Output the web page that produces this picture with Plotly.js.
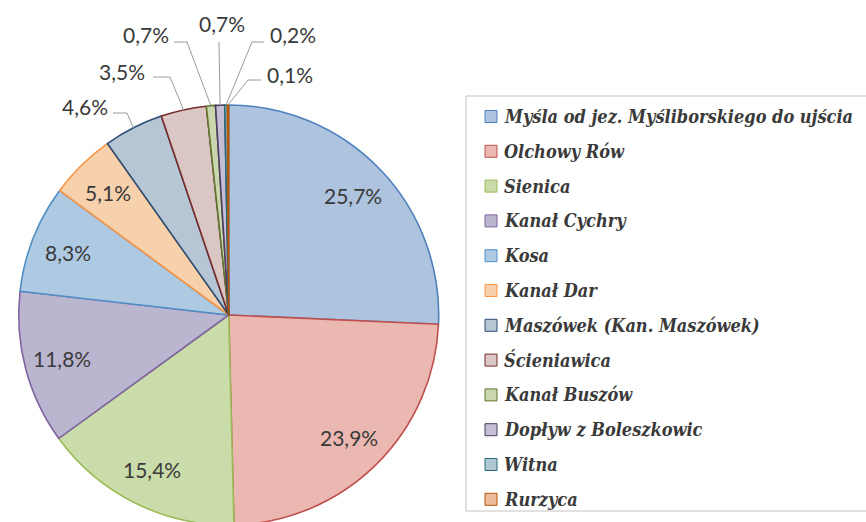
<!DOCTYPE html>
<html><head><meta charset="utf-8">
<script src="https://cdn.plot.ly/plotly-3.0.1.min.js"></script>
<style>html,body{margin:0;padding:0;overflow:hidden;background:#fff}</style>
</head><body><div id="chart" style="width:866px;height:530px"></div>
<script>
// ---- data ----
const labels = ['Myśla od jez. Myśliborskiego do ujścia','Olchowy Rów','Sienica','Kanał Cychry','Kosa','Kanał Dar','Maszówek (Kan. Maszówek)','Ścieniawica','Kanał Buszów','Dopływ z Boleszkowic','Witna','Rurzyca'];
const values = [25.7, 23.9, 15.4, 11.8, 8.3, 5.1, 4.6, 3.5, 0.7, 0.7, 0.2, 0.1];
const fillColors = ['#adc3de','#eab8b0','#cadca9','#bbb6cf','#aecae3','#f6d1ab','#b7c6d4','#dbc6c6','#cad6ae','#c4bfd4','#afc8d2','#ecbd9a'];
const lineColors = ['#4f81bd','#c0504d','#9bbb59','#8064a2','#4f8fc6','#f79646','#2c4d75','#772c2a','#5f7530','#4d3b62','#276a7c','#b65708'];

// ---- layout constants ----
const W = 866, H = 530, CX = 228.7, CY = 315, R = 210;
const px = x => x / W, py = y => (H - y) / H;
const fmt = v => v.toFixed(1).replace('.', ',') + '%';
const total = values.reduce((a, b) => a + b, 0);
let cum = 0;
const mids = values.map(v => { const m = (cum + v / 2) / total * 2 * Math.PI; cum += v; return m; });
const polar = (a, r) => [CX + r * Math.sin(a), CY - r * Math.cos(a)];

const labelFont = {family: 'Lato, Liberation Sans, sans-serif', size: 21, color: '#3a3a3a'};
const annotations = [], shapes = [];

// inside labels for the large slices
for (let i = 0; i < 6; i++) {
  const [x, y] = polar(mids[i], 0.82 * R);
  annotations.push({xref: 'paper', yref: 'paper', x: px(x), y: py(y), xanchor: 'center', yanchor: 'middle', text: fmt(values[i]), showarrow: false, font: labelFont});
}
// outside labels: text centre, leader start, elbow (pixels)
const outside = {
  6:  {t: [85, 107],  s: [113, 113], e: [127, 113]},
  7:  {t: [122, 72],  s: [153, 77],  e: [170, 77]},
  8:  {t: [146, 35],  s: [174, 42],  e: [187, 42]},
  9:  {t: [222, 24],  s: [219, 42],  e: [219, 44]},
  10: {t: [293, 35],  s: [264, 42],  e: [252, 42]},
  11: {t: [290, 75],  s: [261, 80],  e: [248, 80]}
};
for (const k in outside) {
  const i = +k, o = outside[k];
  annotations.push({xref: 'paper', yref: 'paper', x: px(o.t[0]), y: py(o.t[1]), xanchor: 'center', yanchor: 'middle', text: fmt(values[i]), showarrow: false, font: labelFont});
  const [ex, ey] = polar(mids[i], R);
  shapes.push({type: 'path', xref: 'paper', yref: 'paper',
    path: `M${px(o.s[0])},${py(o.s[1])} L${px(o.e[0])},${py(o.e[1])} L${px(ex)},${py(ey)}`,
    line: {color: '#9a9a9a', width: 1}});
}

// legend (manual, to match entry spacing)
const legTop = 116.5, legStep = 34.8;
shapes.push({type: 'rect', xref: 'paper', yref: 'paper', x0: px(466), x1: px(880), y0: py(96), y1: py(511), line: {color: '#c4c4c4', width: 1}, fillcolor: 'rgba(0,0,0,0)'});
labels.forEach((lab, i) => {
  const yc = legTop + i * legStep;
  shapes.push({type: 'rect', xref: 'paper', yref: 'paper', x0: px(485), x1: px(497), y0: py(yc - 6), y1: py(yc + 6), fillcolor: fillColors[i], line: {color: lineColors[i], width: 1}});
  annotations.push({xref: 'paper', yref: 'paper', x: px(502), y: py(yc), xanchor: 'left', yanchor: 'middle', text: lab, showarrow: false,
    font: {family: 'DejaVu Serif Condensed, DejaVu Serif, serif', size: 18, color: '#3a3a3a', weight: 'bold', style: 'italic'}});
});

const data = [{
  type: 'pie', labels: labels, values: values, sort: false, direction: 'clockwise', rotation: 0,
  textinfo: 'none', hoverinfo: 'label+percent', showlegend: false,
  marker: {colors: fillColors, line: {color: lineColors, width: 1.6}},
  domain: {x: [(CX - R) / W, (CX + R) / W], y: [(H - CY - R) / H, (H - CY + R) / H]}
}];
const layout = {
  width: W, height: H, margin: {l: 0, r: 0, t: 0, b: 0},
  paper_bgcolor: '#ffffff', showlegend: false,
  annotations: annotations, shapes: shapes
};
Plotly.newPlot('chart', data, layout, {displayModeBar: false, staticPlot: true});
</script></body></html>
